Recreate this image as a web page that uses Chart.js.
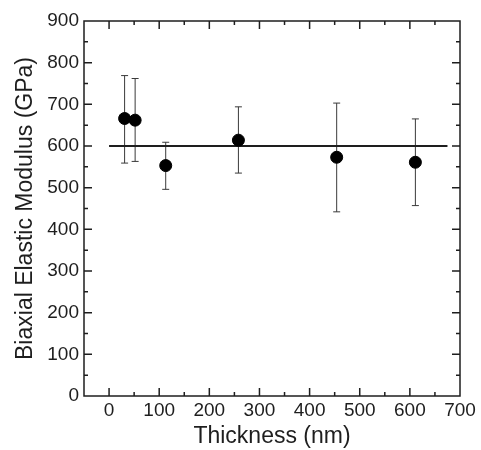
<!DOCTYPE html>
<html>
<head>
<meta charset="utf-8">
<script src="https://cdn.jsdelivr.net/npm/chart.js@4"></script>
<style>
  html, body { margin: 0; padding: 0; background: #fff; }
  #wrap { width: 481px; height: 450px; }
</style>
</head>
<body>
<div id="wrap"><canvas id="modulusChart"></canvas></div>
<script>
// ── Data ─────────────────────────────────────────────────────────────────────
const thickness = [31, 52, 113, 258, 454, 611];
const modulus   = [666, 662, 553, 614, 573, 561];
const errHigh   = [769, 762, 609, 694, 703, 665];
const errLow    = [559, 563, 496, 535, 442, 457];

const fitX = [0, 675];
const fitY = [600, 600];

const xTickValues  = [0, 100, 200, 300, 400, 500, 600, 700];
const xMinorValues = [50, 150, 250, 350, 450, 550, 650];
const yTickValues  = [0, 100, 200, 300, 400, 500, 600, 700, 800, 900];
const yMinorValues = [50, 150, 250, 350, 450, 550, 650, 750, 850];

const INK = '#1e1e1e';
const FONT = "'Liberation Sans', Arial, sans-serif";

// ── Plugins ──────────────────────────────────────────────────────────────────
const errorBars = {
  id: 'errorBars',
  beforeDatasetsDraw(chart) {
    const { ctx, scales: { x, y } } = chart;
    ctx.save();
    ctx.strokeStyle = '#3a3a3a';
    ctx.lineWidth = 1;
    thickness.forEach((t, i) => {
      const px = x.getPixelForValue(t);
      const top = y.getPixelForValue(errHigh[i]);
      const bot = y.getPixelForValue(errLow[i]);
      ctx.beginPath();
      ctx.moveTo(px, top); ctx.lineTo(px, bot);
      ctx.moveTo(px - 3.5, top); ctx.lineTo(px + 3.5, top);
      ctx.moveTo(px - 3.5, bot); ctx.lineTo(px + 3.5, bot);
      ctx.stroke();
    });
    ctx.restore();
  }
};

// box + inward ticks on all four sides
const frame = {
  id: 'frame',
  afterDraw(chart) {
    const { ctx, chartArea: a, scales: { x, y } } = chart;
    ctx.save();
    ctx.strokeStyle = INK;
    ctx.lineWidth = 1.5;
    ctx.strokeRect(a.left, a.top, a.right - a.left, a.bottom - a.top);
    const tick = (vals, len, horiz) => vals.forEach(v => {
      ctx.beginPath();
      if (horiz) {
        const px = x.getPixelForValue(v);
        ctx.moveTo(px, a.bottom); ctx.lineTo(px, a.bottom - len);
        ctx.moveTo(px, a.top);    ctx.lineTo(px, a.top + len);
      } else {
        const py = y.getPixelForValue(v);
        ctx.moveTo(a.left, py);  ctx.lineTo(a.left + len, py);
        ctx.moveTo(a.right, py); ctx.lineTo(a.right - len, py);
      }
      ctx.stroke();
    });
    tick(xTickValues.filter(v => v < 700), 8, true);
    tick(xMinorValues, 4, true);
    tick(yTickValues.filter(v => v > 0 && v < 900), 8, false);
    tick(yMinorValues, 4, false);
    ctx.restore();
  }
};

// ── Chart ────────────────────────────────────────────────────────────────────
new Chart(document.getElementById('modulusChart'), {
  type: 'scatter',
  data: {
    datasets: [
      {
        label: 'Fit',
        data: fitX.map((v, i) => ({ x: v, y: fitY[i] })),
        showLine: true, borderColor: INK, borderWidth: 2,
        pointRadius: 0, order: 2
      },
      {
        label: 'Biaxial modulus',
        data: thickness.map((t, i) => ({ x: t, y: modulus[i] })),
        backgroundColor: '#000', borderColor: '#000',
        pointRadius: 6, pointHoverRadius: 6, order: 1
      }
    ]
  },
  options: {
    responsive: true, maintainAspectRatio: false, animation: false,
    layout: { padding: { top: 21, right: 21, left: 0, bottom: 0 } },
    plugins: { legend: { display: false }, tooltip: { enabled: false } },
    scales: {
      x: {
        type: 'linear', min: -50, max: 700,
        afterBuildTicks: s => { s.ticks = xTickValues.map(v => ({ value: v })); },
        afterFit: s => { s.height = 54; },
        grid: { display: false, drawTicks: false },
        border: { display: false },
        ticks: { padding: 3, color: INK, font: { family: FONT, size: 19 }, maxRotation: 0, autoSkip: false },
        title: { display: true, text: 'Thickness (nm)', color: INK, padding: 0,
                 font: { family: FONT, size: 23 } }
      },
      y: {
        type: 'linear', min: 0, max: 900,
        afterBuildTicks: s => { s.ticks = yTickValues.map(v => ({ value: v })); },
        afterFit: s => { s.width = 84; },
        grid: { display: false, drawTicks: false },
        border: { display: false },
        ticks: { padding: 5, color: INK, font: { family: FONT, size: 19 }, autoSkip: false },
        title: { display: true, text: 'Biaxial Elastic Modulus (GPa)', color: INK,
                 padding: { top: 12, bottom: 0 }, font: { family: FONT, size: 23 } }
      }
    }
  },
  plugins: [errorBars, frame]
});
</script>
</body>
</html>
